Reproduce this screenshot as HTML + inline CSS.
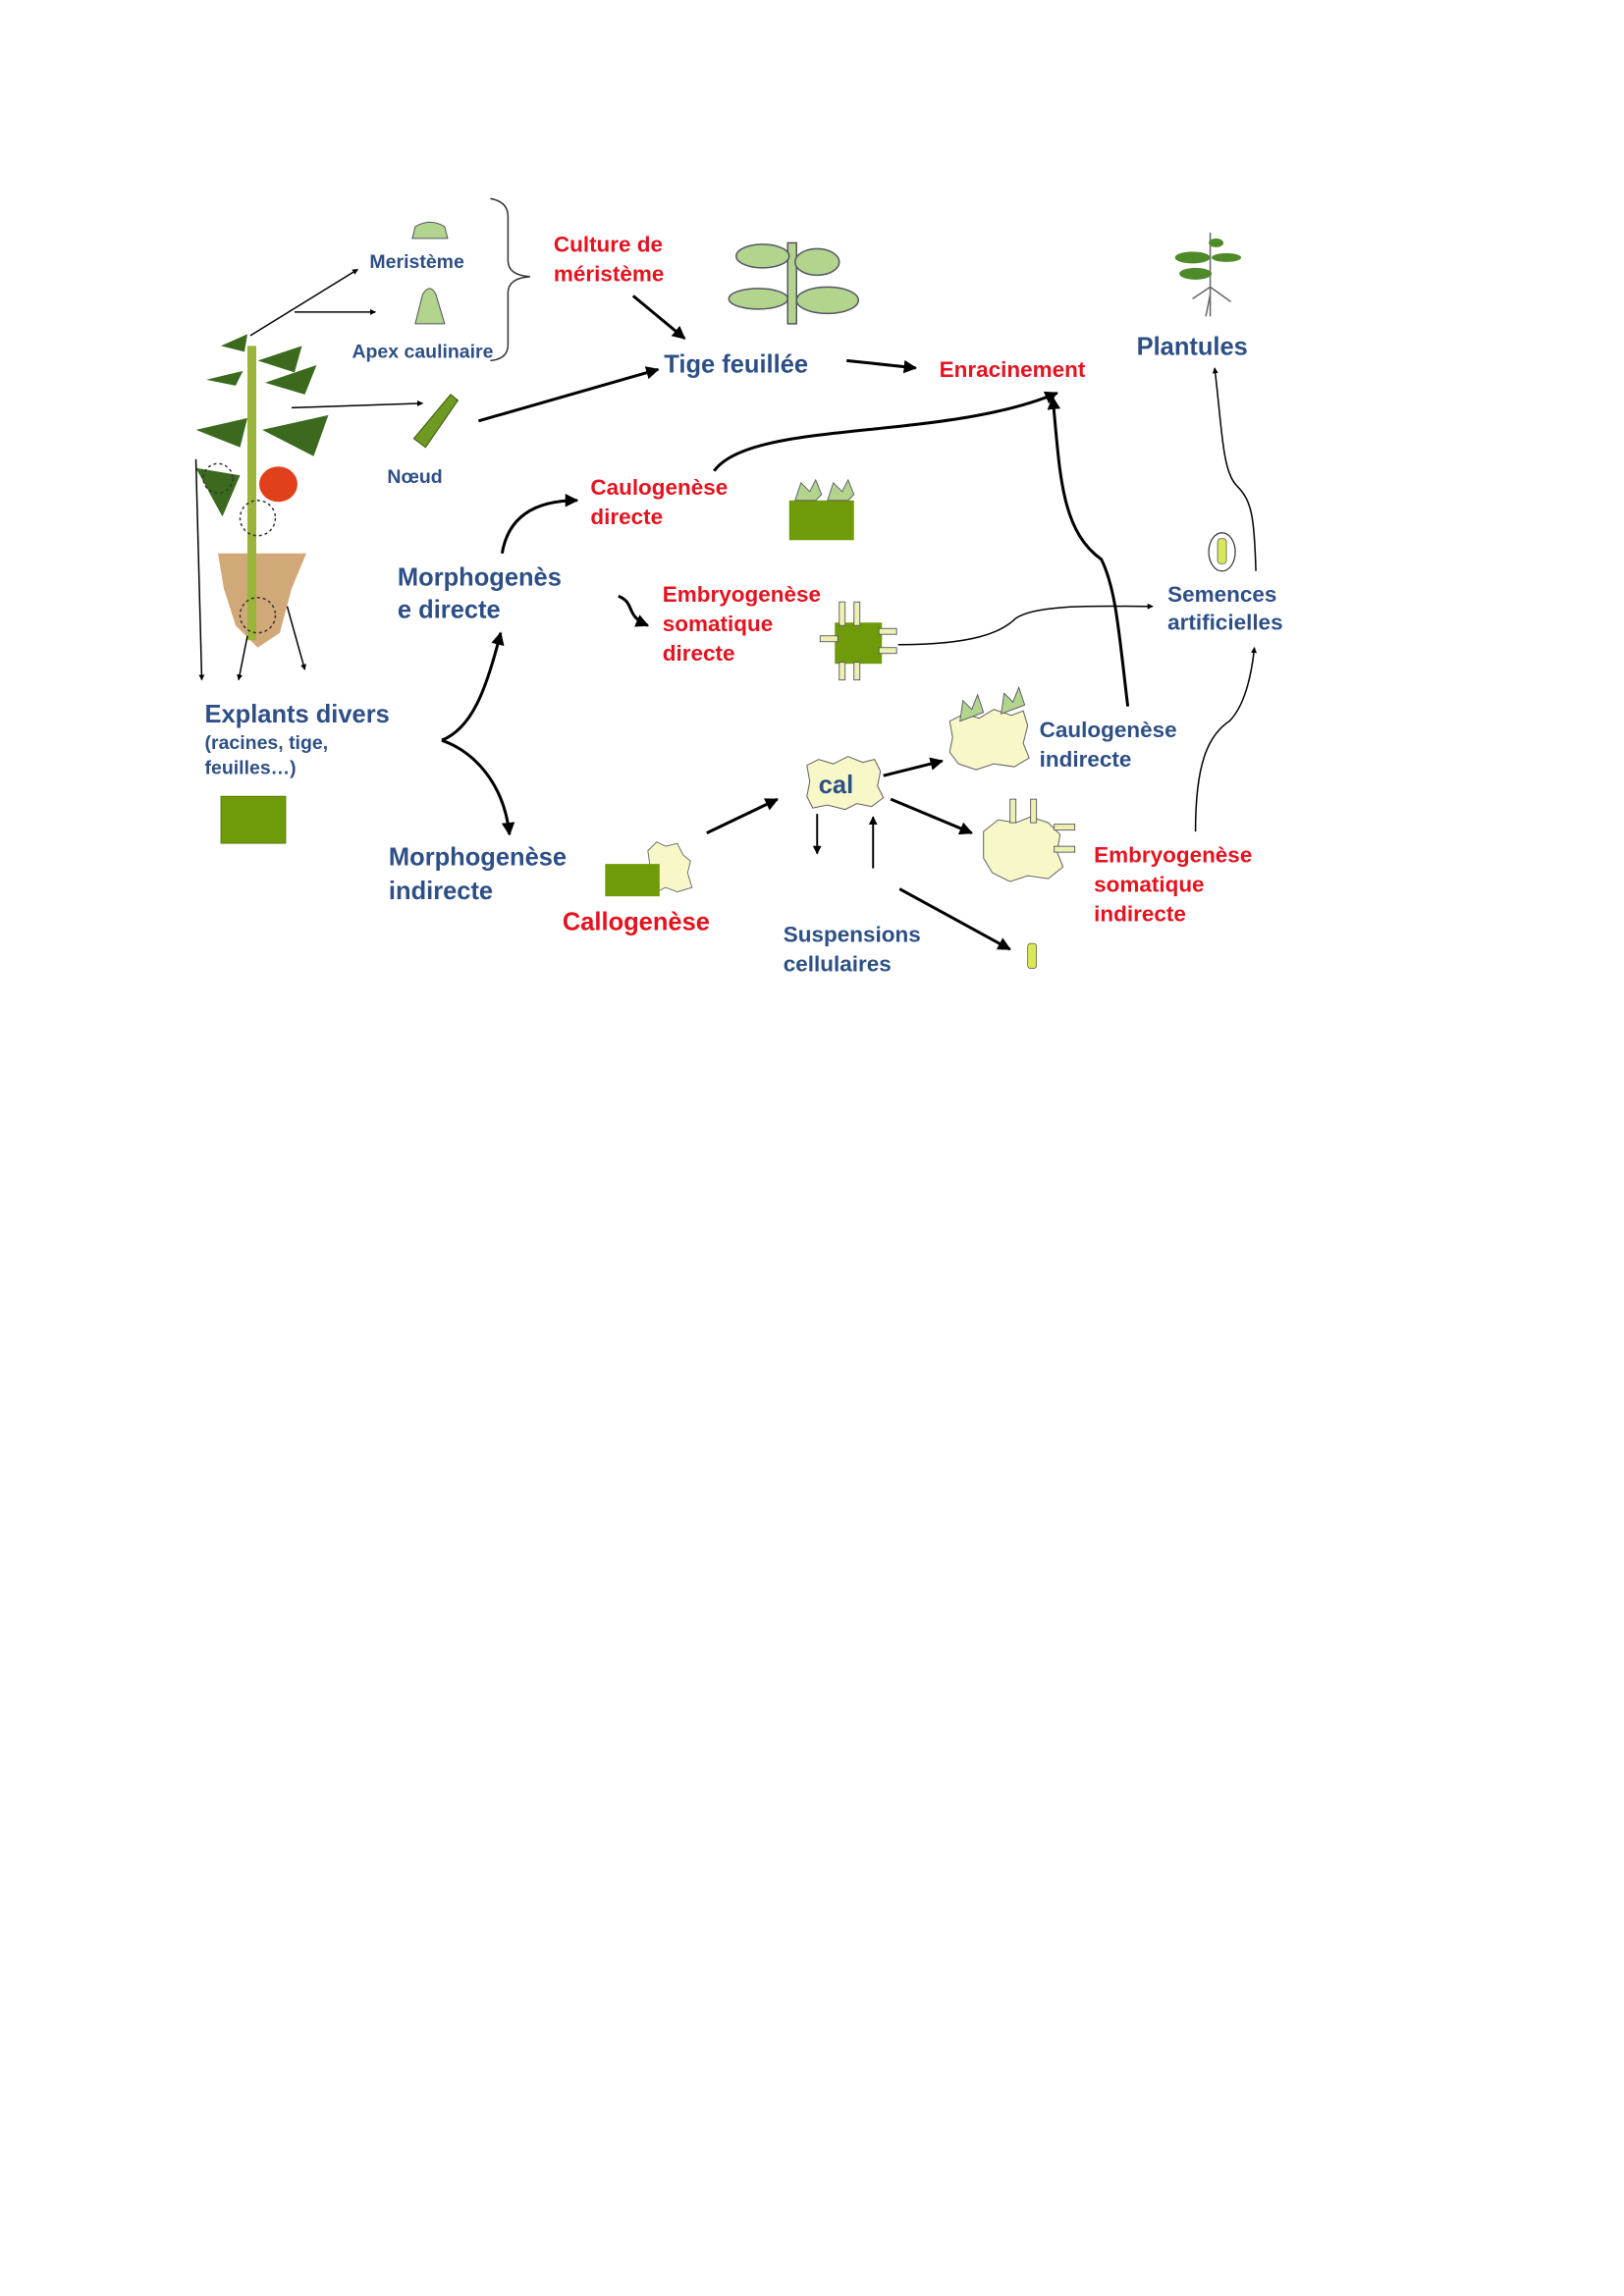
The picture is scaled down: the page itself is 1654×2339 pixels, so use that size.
<!DOCTYPE html>
<html><head><meta charset="utf-8"><style>
html,body{margin:0;padding:0;background:#fff;}
svg{display:block;}
text{font-family:"Liberation Sans",Arial,sans-serif;font-weight:bold;}
.b{fill:#2d4f86;}
.r{fill:#e3131f;}
</style></head><body>
<svg width="1654" height="2339" viewBox="0 0 1103 1560" xmlns="http://www.w3.org/2000/svg">
<defs>
<marker id="a" viewBox="0 0 10 10" refX="9" refY="5" markerWidth="4" markerHeight="4" orient="auto"><path d="M0,0L10,5L0,10z" fill="#000"/></marker>
<marker id="s" viewBox="0 0 10 10" refX="9" refY="5" markerWidth="4.5" markerHeight="4.5" orient="auto"><path d="M0,0L10,5L0,10z" fill="#000"/></marker>
</defs>
<rect width="1103" height="1560" fill="#fff"/>

<!-- plant -->
<g>
<path d="M148,376 L208,376 L198,400 L190,430 L175,440 L160,425 L152,400z" fill="#c99a62" opacity="0.85"/>
<rect x="168" y="235" width="6" height="200" fill="#9ab53a"/>
<path d="M140,258 l25,-6 l-5,10z M175,245 l30,-10 l-5,18z M133,292 l35,-8 l-5,20z M178,292 l45,-10 l-10,28z M133,318 l30,5 l-12,28z M150,235 l18,-8 l-2,12z M180,260 l35,-12 l-8,20z" fill="#3b6a1e"/>
<ellipse cx="189" cy="329" rx="13" ry="12" fill="#e0401a"/>
<circle cx="148" cy="325" r="10" fill="none" stroke="#333" stroke-dasharray="2,2"/>
<circle cx="175" cy="352" r="12" fill="none" stroke="#333" stroke-dasharray="2,2"/>
<circle cx="175" cy="418" r="12" fill="none" stroke="#333" stroke-dasharray="2,2"/>
</g>

<g stroke="#000" stroke-width="1" fill="none" marker-end="url(#a)">
<path d="M170,228 L243,183"/>
<path d="M200,212 L255,212"/>
<path d="M198,277 L287,274"/>
<path d="M133,312 L137,462"/>
<path d="M168,432 L162,462"/>
<path d="M195,412 L207,455"/>
</g>

<path d="M282,154 q10,-6 20,0 l2,8 l-24,0z" fill="#b3d48c" stroke="#556" stroke-width="0.7"/>
<path d="M287,200 q5,-8 9,0 l6,20 l-20,0z" fill="#b3d48c" stroke="#556" stroke-width="0.7"/>
<path d="M306,268 l5,4 l-22,32 l-8,-6z" fill="#6f9a22" stroke="#3b5a10" stroke-width="0.7"/>
<text x="251" y="182" class="b" font-size="13">Meristème</text>
<text x="239" y="243" class="b" font-size="13">Apex caulinaire</text>
<text x="263" y="328" class="b" font-size="13">Nœud</text>
<path d="M333,135 q12,2 12,12 l0,30 q0,10 15,11 q-15,1 -15,11 l0,35 q0,10 -12,11" fill="none" stroke="#333" stroke-width="1"/>

<text x="376" y="171" class="r" font-size="15">Culture de</text>
<text x="376" y="191" class="r" font-size="15">méristème</text>

<g fill="#b3d48c" stroke="#556" stroke-width="1">
<rect x="535" y="165" width="6" height="55"/>
<ellipse cx="518" cy="174" rx="18" ry="8"/>
<ellipse cx="555" cy="178" rx="15" ry="9"/>
<ellipse cx="515" cy="203" rx="20" ry="7"/>
<ellipse cx="562" cy="204" rx="21" ry="9"/>
</g>
<text x="451" y="253" class="b" font-size="17">Tige feuillée</text>
<text x="638" y="256" class="r" font-size="15">Enracinement</text>
<text x="772" y="241" class="b" font-size="17">Plantules</text>
<g>
<path d="M822,158 L822,215 M822,195 l-12,8 M822,195 l14,10 M822,200 l-3,15" stroke="#666" stroke-width="1" fill="none"/>
<ellipse cx="810" cy="175" rx="12" ry="4" fill="#4f8a2a"/>
<ellipse cx="833" cy="175" rx="10" ry="3" fill="#4f8a2a"/>
<ellipse cx="812" cy="186" rx="11" ry="4" fill="#4f8a2a"/>
<ellipse cx="826" cy="165" rx="5" ry="3" fill="#4f8a2a"/>
</g>

<g stroke="#000" stroke-width="2" fill="none" marker-end="url(#s)">
<path d="M430,201 L465,230"/>
<path d="M325,286 L447,251"/>
<path d="M575,245 L622,250"/>
<path d="M485,320 C510,285 640,300 718,267"/>
<path d="M766,480 C760,430 758,400 748,380 C720,360 720,320 715,270"/>
<path d="M341,376 C345,352 362,340 392,340"/>
<path d="M420,405 C432,410 424,418 440,425"/>
<path d="M300,503 C320,495 330,470 340,430"/>
<path d="M300,503 C320,510 342,530 346,567"/>
<path d="M480,566 L528,543"/>
<path d="M600,527 L640,517"/>
<path d="M605,543 L660,566"/>
<path d="M611,604 L686,645"/>
</g>
<g stroke="#000" stroke-width="1.3" fill="none" marker-end="url(#s)">
<path d="M555,553 L555,580"/>
<path d="M593,590 L593,555"/>
</g>
<g stroke="#000" stroke-width="1" fill="none" marker-end="url(#a)">
<path d="M610,438 C660,438 680,430 690,420 C705,410 750,412 783,412"/>
<path d="M853,388 C852,350 850,340 840,330 C830,320 830,290 825,250"/>
<path d="M812,565 C812,520 820,500 835,490 C845,480 850,460 852,440"/>
</g>

<text x="401" y="336" class="r" font-size="15">Caulogenèse</text>
<text x="401" y="356" class="r" font-size="15">directe</text>
<rect x="536" y="340" width="44" height="27" fill="#6f9a0a"/>
<g fill="#b3d48c" stroke="#556" stroke-width="0.6">
<path d="M540,340 l4,-12 l6,6 l4,-8 l4,10 l-4,4z"/><path d="M562,340 l4,-12 l6,6 l4,-8 l4,10 l-4,4z"/>
</g>
<text x="270" y="398" class="b" font-size="17">Morphogenès</text>
<text x="270" y="420" class="b" font-size="17">e directe</text>
<text x="450" y="409" class="r" font-size="15">Embryogenèse</text>
<text x="450" y="429" class="r" font-size="15">somatique</text>
<text x="450" y="449" class="r" font-size="15">directe</text>
<rect x="567" y="423" width="32" height="28" fill="#6f9a0a"/>
<g fill="#eef0b0" stroke="#556" stroke-width="0.6">
<rect x="570" y="409" width="4" height="16"/><rect x="580" y="409" width="4" height="16"/>
<rect x="570" y="450" width="4" height="12"/><rect x="580" y="450" width="4" height="12"/>
<rect x="557" y="432" width="12" height="4"/><rect x="597" y="427" width="12" height="4"/><rect x="597" y="440" width="12" height="4"/>
</g>
<text x="793" y="409" class="b" font-size="15">Semences</text>
<text x="793" y="428" class="b" font-size="15">artificielles</text>
<ellipse cx="830" cy="375" rx="9" ry="13" fill="#fff" stroke="#333" stroke-width="0.8"/>
<rect x="827" y="366" width="6" height="17" rx="2" fill="#d8e85a" stroke="#555" stroke-width="0.5"/>

<text x="139" y="491" class="b" font-size="17">Explants divers</text>
<text x="139" y="509" class="b" font-size="13">(racines, tige,</text>
<text x="139" y="526" class="b" font-size="13">feuilles…)</text>
<rect x="150" y="541" width="44" height="32" fill="#6f9a0a" stroke="#4a6a08" stroke-width="0.5"/>

<text x="264" y="588" class="b" font-size="17">Morphogenèse</text>
<text x="264" y="611" class="b" font-size="17">indirecte</text>
<path d="M440,578 l6,-6 l6,3 l8,-2 l4,8 l5,4 l-2,8 l3,10 l-10,3 l-8,-3 l-8,4z" fill="#f7f7c8" stroke="#666" stroke-width="0.6"/>
<rect x="411" y="587" width="37" height="22" fill="#6f9a0a"/>
<text x="382" y="632" class="r" font-size="17">Callogenèse</text>

<path d="M548,520 l8,-4 l10,3 l10,-5 l10,4 l8,-2 l4,8 l-2,10 l4,8 l-8,6 l-10,-2 l-8,4 l-12,-3 l-10,2 l-4,-8 l2,-10z" fill="#f7f7c8" stroke="#666" stroke-width="0.7"/>
<text x="556" y="539" class="b" font-size="17">cal</text>

<path d="M645,490 l10,-5 l10,3 l10,-6 l12,4 l8,-3 l3,10 l-3,12 l4,10 l-10,6 l-14,-2 l-12,4 l-12,-4 l-6,-8 l2,-10z" fill="#f7f7c8" stroke="#666" stroke-width="0.7"/>
<g fill="#b3d48c" stroke="#556" stroke-width="0.6"><path d="M652,490 l2,-14 l6,6 l4,-10 l4,12z"/><path d="M680,485 l2,-14 l6,6 l4,-10 l4,12z"/></g>
<text x="706" y="501" class="b" font-size="15">Caulogenèse</text>
<text x="706" y="521" class="b" font-size="15">indirecte</text>

<path d="M668,565 l10,-8 l12,2 l10,-4 l12,4 l8,8 l-2,12 l4,10 l-10,8 l-14,-2 l-12,4 l-12,-6 l-6,-10z" fill="#f7f7c8" stroke="#666" stroke-width="0.7"/>
<g fill="#eef0b0" stroke="#556" stroke-width="0.6">
<rect x="686" y="543" width="4" height="16"/><rect x="700" y="543" width="4" height="16"/>
<rect x="716" y="560" width="14" height="4"/><rect x="716" y="575" width="14" height="4"/>
</g>
<text x="743" y="586" class="r" font-size="15">Embryogenèse</text>
<text x="743" y="606" class="r" font-size="15">somatique</text>
<text x="743" y="626" class="r" font-size="15">indirecte</text>

<text x="532" y="640" class="b" font-size="15">Suspensions</text>
<text x="532" y="660" class="b" font-size="15">cellulaires</text>
<rect x="698" y="641" width="6" height="17" rx="2" fill="#d8e85a" stroke="#555" stroke-width="0.5"/>
</svg>
</body></html>
